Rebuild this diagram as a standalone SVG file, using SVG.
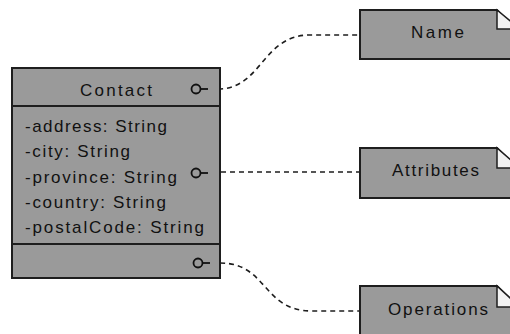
<svg xmlns="http://www.w3.org/2000/svg" width="510" height="334" viewBox="0 0 510 334">
<style>
.box{fill:#9a9a9a;stroke:#1e1e1e;stroke-width:2}
.fold{fill:#f2f2f2;stroke:#1e1e1e;stroke-width:1.5}
.sep{stroke:#1e1e1e;stroke-width:2}
.t{font-family:"Liberation Sans",Arial,sans-serif;font-size:17px;fill:#111111}
.lol{fill:none;stroke:#111111;stroke-width:1.8}
.conn{fill:none;stroke:#1e1e1e;stroke-width:1.6;stroke-dasharray:5 4}
</style>
<rect width="510" height="334" fill="#ffffff"/>
<g id="connectors">
<path class="conn" d="M218 89 C262 89 262 35 310 35 L360 35"/>
<path class="conn" d="M212 172 L360 172"/>
<path class="conn" d="M220 263 C268 263 262 311 312 311 L360 311"/>
</g>
<g id="contact">
<rect class="box" x="12" y="68" width="208" height="210"/>
<line class="sep" x1="12" y1="106" x2="220" y2="106"/>
<line class="sep" x1="12" y1="244" x2="220" y2="244"/>
<text class="t" x="80" y="96" textLength="72" lengthAdjust="spacing">Contact</text>
<text class="t" x="25" y="132" textLength="142" lengthAdjust="spacing">-address: String</text>
<text class="t" x="25" y="157" textLength="105" lengthAdjust="spacing">-city: String</text>
<text class="t" x="25" y="183" textLength="152" lengthAdjust="spacing">-province: String</text>
<text class="t" x="25" y="208" textLength="141" lengthAdjust="spacing">-country: String</text>
<text class="t" x="25" y="233" textLength="179" lengthAdjust="spacing">-postalCode: String</text>
<circle class="lol" cx="196" cy="89" r="4.5"/>
<line class="lol" x1="200" y1="89" x2="208" y2="89"/>
<circle class="lol" cx="196" cy="173" r="4.5"/>
<line class="lol" x1="200" y1="173" x2="208" y2="173"/>
<circle class="lol" cx="198" cy="263" r="4.5"/>
<line class="lol" x1="202" y1="263" x2="210" y2="263"/>
</g>
<g id="name">
<path class="box" d="M360 10 L497 10 L520 33 L520 59 L360 59 Z"/>
<path class="fold" d="M497 10 L497 29 L520 29 Z"/>
<text class="t" x="411" y="38" textLength="53" lengthAdjust="spacing">Name</text>
</g>
<g id="attributes">
<path class="box" d="M360 148 L497 148 L520 171 L520 198 L360 198 Z"/>
<path class="fold" d="M497 148 L497 168 L520 168 Z"/>
<text class="t" x="392" y="176" textLength="87" lengthAdjust="spacing">Attributes</text>
</g>
<g id="operations">
<path class="box" d="M360 286 L497 286 L520 309 L520 340 L360 340 Z"/>
<path class="fold" d="M497 286 L497 307 L520 307 Z"/>
<text class="t" x="388" y="315" textLength="100" lengthAdjust="spacing">Operations</text>
</g>
</svg>
